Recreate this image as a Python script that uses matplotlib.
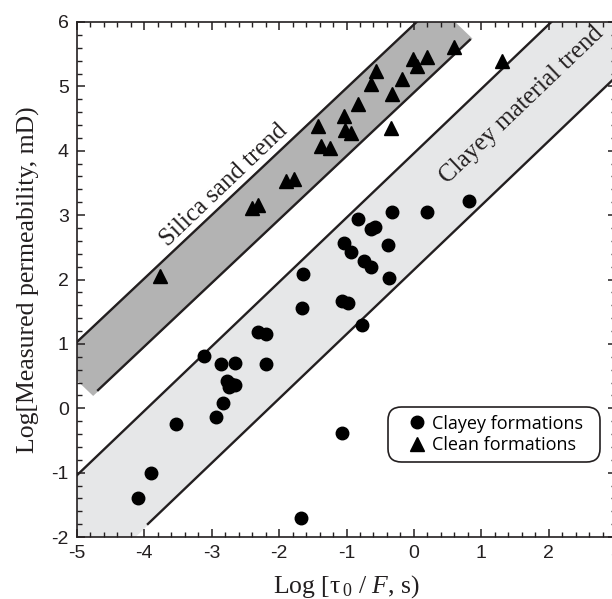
import numpy as np
import matplotlib
matplotlib.use("Agg")
import matplotlib.pyplot as plt
from matplotlib.ticker import MultipleLocator
from matplotlib.lines import Line2D
from matplotlib.patches import FancyBboxPatch

plt.rcParams['axes.unicode_minus'] = False
plt.rcParams['mathtext.fontset'] = 'custom'
plt.rcParams['mathtext.rm'] = 'Liberation Serif'
plt.rcParams['mathtext.it'] = 'Liberation Serif:italic'

# ---------------- data ----------------
clayey_x = [-4.10, -3.90, -3.53, -3.11, -2.93, -2.83, -2.86, -2.66,
            -2.77, -2.72, -2.66, -2.74, -2.32, -2.19, -2.19, -1.67,
            -1.65, -1.66, -1.06, -1.07, -0.98, -1.04, -0.93, -0.83,
            -0.74, -0.64, -0.64, -0.57, -0.77, -0.39, -0.37, -0.33,
            0.19, 0.82]
clayey_y = [-1.40, -1.00, -0.25, 0.81, -0.14, 0.08, 0.68, 0.70,
            0.43, 0.38, 0.36, 0.33, 1.18, 1.16, 0.69, -1.70,
            2.08, 1.56, -0.38, 1.66, 1.63, 2.57, 2.42, 2.94,
            2.29, 2.20, 2.79, 2.82, 1.29, 2.53, 2.02, 3.05,
            3.05, 3.22]

clean_x = [-3.77, -2.41, -2.32, -1.90, -1.78, -1.43, -1.38, -1.25,
           -1.04, -1.02, -0.93, -0.83, -0.64, -0.56, -0.32, -0.18,
           -0.34, -0.02, 0.04, 0.20, 0.59, 1.31]
clean_y = [2.05, 3.11, 3.15, 3.53, 3.56, 4.39, 4.08, 4.05,
           4.54, 4.32, 4.28, 4.73, 5.03, 5.24, 4.88, 5.11,
           4.36, 5.42, 5.32, 5.46, 5.61, 5.39]

# trend bands: slope, intercept of upper / lower bounding lines
silica_slope = 0.986
silica_upper_b = 5.96
silica_lower_b = 4.904
silica_upper_x = [-5.4, 0.3]
silica_lower_x = [-4.70, 0.844]
silica_fill_x = [-4.76, 0.87]

clay_slope = 1.0
clay_upper_b = 3.96
clay_lower_b = 2.15
clay_upper_x = [-5.5, 3.5]
clay_lower_x = [-3.96, 3.5]
clay_fill_x = [-4.75, 4.5]

xticks = [-5, -4, -3, -2, -1, 0, 1, 2, 3]
yticks = [-2, -1, 0, 1, 2, 3, 4, 5, 6]

dark_gray = '#b3b3b3'
light_gray = '#e6e7e8'
ink = '#231f20'

# ---------------- figure ----------------
W, H = 612, 599
fig = plt.figure(figsize=(W/100, H/100), dpi=100)
ax = fig.add_axes([77/W, 1-537/H, 539/W, 515/H])
ax.set_xlim(-5, 3)
ax.set_ylim(-2, 6)


def band_polygon(m, bu, bl, fx, off=0.02):
    bu2, bl2 = bu + off, bl - off
    t = (bu2 - bl2) / (1 + m)
    x0, x1 = fx
    y0, y1 = m * x0 + bl2, m * x1 + bl2
    return [(x0, y0), (x1, y1), (x1 - t, y1 + t), (x0 - t, y0 + t)]


for (m, bu, bl, fx, col) in [(silica_slope, silica_upper_b, silica_lower_b, silica_fill_x, dark_gray),
                             (clay_slope, clay_upper_b, clay_lower_b, clay_fill_x, light_gray)]:
    poly = plt.Polygon(band_polygon(m, bu, bl, fx), closed=True, facecolor=col,
                       edgecolor='none', zorder=1)
    ax.add_patch(poly)


def draw_line(m, b, xr):
    xs = np.array(xr)
    ax.plot(xs, m * xs + b, color=ink, lw=1.7, zorder=2, solid_capstyle='butt')


draw_line(silica_slope, silica_upper_b, silica_upper_x)
draw_line(silica_slope, silica_lower_b, silica_lower_x)
draw_line(clay_slope, clay_upper_b, clay_upper_x)
draw_line(clay_slope, clay_lower_b, clay_lower_x)

ax.plot(clayey_x, clayey_y, 'o', color='black', ms=9, zorder=3, linestyle='none')
ax.plot(clean_x, clean_y, '^', color='black', ms=9.5, zorder=3, linestyle='none')

ax.text(-2.82, 3.46, 'Silica sand trend', family='Liberation Serif', fontsize=18,
        rotation=45, transform_rotates_text=True, rotation_mode='anchor',
        ha='center', va='center', color=ink, zorder=4)
ax.text(1.60, 4.71, 'Clayey material trend', family='Liberation Serif', fontsize=18,
        rotation=45, transform_rotates_text=True, rotation_mode='anchor',
        ha='center', va='center', color=ink, zorder=4)

# axes styling
ax.set_xticks(xticks)
ax.set_yticks(yticks)
ax.xaxis.set_minor_locator(MultipleLocator(0.2))
ax.yaxis.set_minor_locator(MultipleLocator(0.2))
ax.tick_params(which='both', direction='in', top=True, right=True, colors=ink)
ax.tick_params(which='major', length=6, width=1.1, pad=6, labelsize=14)
ax.tick_params(which='minor', length=3.5, width=1.0)
for lab in ax.get_xticklabels() + ax.get_yticklabels():
    lab.set_family('Liberation Sans')
for sp in ax.spines.values():
    sp.set_linewidth(1.2)
    sp.set_color(ink)

ax.set_ylabel('Log[Measured permeability, mD)', family='Liberation Serif',
              fontsize=18.5, labelpad=8, color=ink)
ax.set_xlabel('Log [τ$_{\\,0}$ / $\\mathit{F}$, s)', family='Liberation Serif',
              fontsize=18.5, labelpad=7.5, color=ink)

# legend (frameless) with a hand-placed rounded frame
handles = [Line2D([], [], marker='o', color='black', ls='none', ms=9),
           Line2D([], [], marker='^', color='black', ls='none', ms=9.5)]
leg = ax.legend(handles, ['Clayey formations', 'Clean formations'],
                loc='center', bbox_to_anchor=(496/W, 1-434.5/H),
                bbox_transform=fig.transFigure, frameon=False,
                prop={'family': 'Open Sans', 'size': 13}, handlelength=0.9,
                handletextpad=0.35, borderpad=0.0, labelspacing=0.2,
                borderaxespad=0)
leg.set_zorder(6)
box = FancyBboxPatch((388/W, 1-462/H), (600-388)/W, (462-407)/H,
                     boxstyle='round,pad=0,rounding_size=0.022',
                     transform=fig.transFigure, facecolor='white',
                     edgecolor=ink, linewidth=1.2, zorder=5)
ax.add_artist(box)

fig.savefig('out.png', dpi=100)
